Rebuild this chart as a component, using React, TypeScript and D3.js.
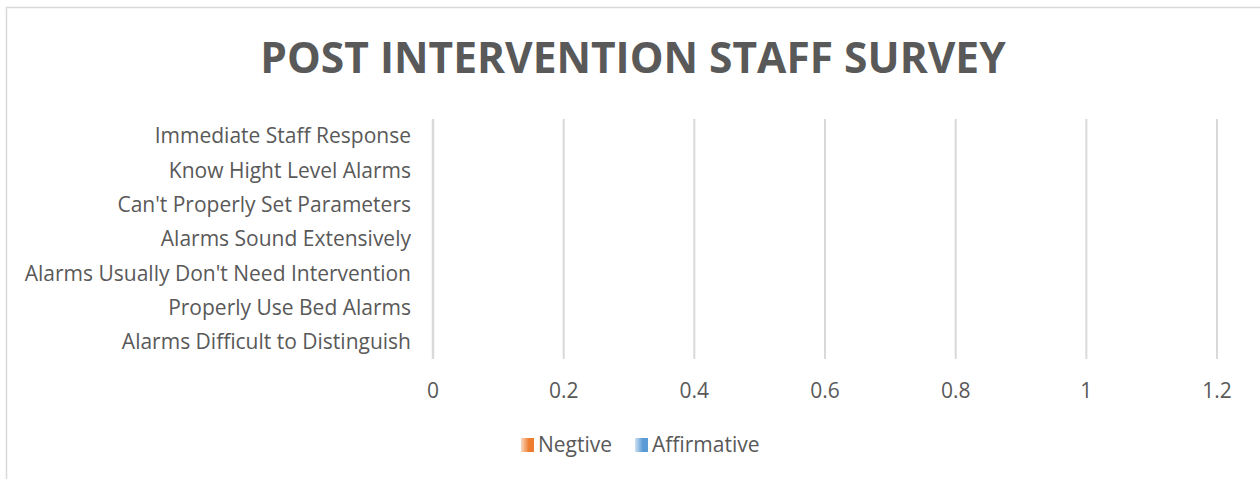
import React from "react";
import * as d3 from "d3";

// Survey items, listed top to bottom as they appear on the category axis
const categories = [
  "Immediate Staff Response",
  "Know Hight Level Alarms",
  "Can't Properly Set Parameters",
  "Alarms Sound Extensively",
  "Alarms Usually Don't Need Intervention",
  "Properly Use Bed Alarms",
  "Alarms Difficult to Distinguish",
];

// Response counts per item (no responses recorded)
const negativeValues = [0, 0, 0, 0, 0, 0, 0];
const affirmativeValues = [0, 0, 0, 0, 0, 0, 0];

const xTicks = [0, 0.2, 0.4, 0.6, 0.8, 1, 1.2];
const seriesNames = ["Negtive", "Affirmative"];
const seriesColors = ["#ED7D31", "#5B9BD5"];

const W = 1260;
const H = 479;
const FONT = "'Open Sans', 'Noto Sans', sans-serif";
const TEXT = "#595959";
const GRID = "#d9d9d9";
const LABEL_SIZE = 21;

export default function App() {
  const plotLeft = 433;
  const plotRight = 1217;
  const plotTop = 119;
  const plotBottom = 359;

  const x = d3.scaleLinear().domain([0, 1.2]).range([plotLeft, plotRight]);
  const y = d3
    .scaleBand<string>()
    .domain(categories)
    .range([plotTop, plotBottom])
    .paddingInner(0.3)
    .paddingOuter(0.15);
  const sub = d3
    .scaleBand<string>()
    .domain(seriesNames)
    .range([0, y.bandwidth()]);

  const series = [negativeValues, affirmativeValues];

  const legendItems = [
    { name: seriesNames[0], x: 521 },
    { name: seriesNames[1], x: 635 },
  ];

  return (
    <svg
      width={W}
      height={H}
      style={{ position: "absolute", left: 0, top: 0, display: "block", background: "#fff" }}
      fontFamily={FONT}
    >
      <defs>
        {seriesColors.map((c, i) => (
          <linearGradient key={i} id={`sw${i}`} x1="0" x2="1" y1="0" y2="0">
            <stop offset="0" stopColor={c} stopOpacity={0.3} />
            <stop offset="0.6" stopColor={c} stopOpacity={1} />
            <stop offset="1" stopColor={c} stopOpacity={1} />
          </linearGradient>
        ))}
      </defs>

      <rect x={6.5} y={7.5} width={1400} height={700} fill="none" stroke={GRID} strokeWidth={1.5} />

      <text
        x={633}
        y={73}
        textAnchor="middle"
        fontSize={42.5}
        fontWeight={700}
        fill={TEXT}
      >
        POST INTERVENTION STAFF SURVEY
      </text>

      {/* vertical gridlines */}
      {xTicks.map((t) => (
        <line
          key={t}
          x1={x(t)}
          x2={x(t)}
          y1={plotTop}
          y2={plotBottom}
          stroke={GRID}
          strokeWidth={t === 0 ? 2.5 : 2}
        />
      ))}

      {/* bars */}
      {series.map((vals, si) =>
        vals.map((v, i) => (
          <rect
            key={`${si}-${i}`}
            x={x(0)}
            y={(y(categories[i]) ?? 0) + (sub(seriesNames[si]) ?? 0)}
            width={x(v) - x(0)}
            height={sub.bandwidth()}
            fill={seriesColors[si]}
          />
        ))
      )}

      {/* category labels */}
      {categories.map((c) => (
        <text
          key={c}
          x={411}
          y={(y(c) ?? 0) + y.bandwidth() / 2}
          dy="0.35em"
          textAnchor="end"
          fontSize={LABEL_SIZE}
          fill={TEXT}
        >
          {c}
        </text>
      ))}

      {/* value axis labels */}
      {xTicks.map((t) => (
        <text key={t} x={x(t)} y={398} textAnchor="middle" fontSize={LABEL_SIZE} fill={TEXT}>
          {d3.format("~g")(t)}
        </text>
      ))}

      {/* legend */}
      {legendItems.map((l, i) => (
        <g key={l.name}>
          <rect x={l.x} y={438} width={13} height={14} fill={`url(#sw${i})`} />
          <text x={l.x + 17} y={452} fontSize={LABEL_SIZE} fill={TEXT}>
            {l.name}
          </text>
        </g>
      ))}
    </svg>
  );
}
